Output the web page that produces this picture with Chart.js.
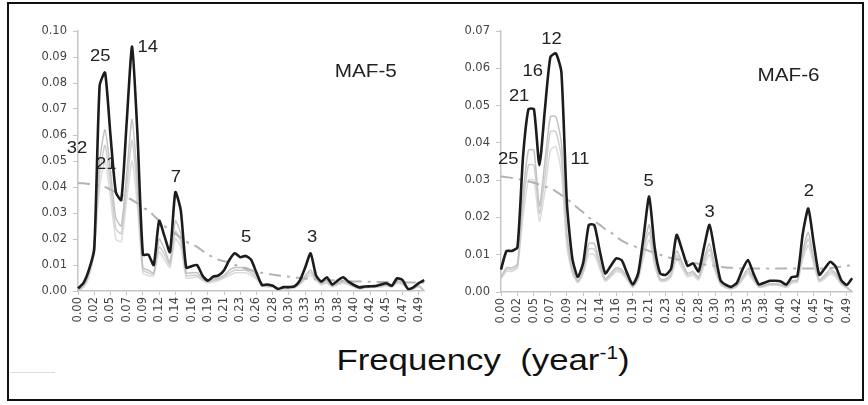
<!DOCTYPE html>
<html>
<head>
<meta charset="utf-8">
<script src="https://cdn.jsdelivr.net/npm/chart.js@4.4.0/dist/chart.umd.min.js"></script>
<style>
  html, body { margin: 0; padding: 0; background: #fff; }
  #wrap { position: relative; width: 868px; height: 405px; overflow: hidden; }
  #frame { position: absolute; left: 7px; top: 2px; width: 853px; height: 395px; border: 2px solid #111; }
  #leftChart { position: absolute; left: 0; top: 0; }
  #rightChart { position: absolute; left: 440px; top: 0; }
  #xTitle {
    position: absolute; left: 283px; top: 345px; width: 400px; text-align: center;
    font: 30px/30px "Liberation Sans", Arial, sans-serif; color: #111;
    transform: scaleX(1.16); white-space: pre;
  }
  #xTitle sup { font-size: 18px; vertical-align: 11px; line-height: 0; }
  #smudge { position: absolute; left: 10px; top: 372px; width: 45px; height: 1px; background: #ddd; }
</style>
</head>
<body>
<div id="wrap">
  <canvas id="leftChart" width="440" height="335"></canvas>
  <canvas id="rightChart" width="428" height="335"></canvas>
  <div id="xTitle">Frequency  (year<sup>-1</sup>)</div>
  <div id="smudge"></div>
  <div id="frame"></div>
</div>
<script>
// frequency tick labels (every third category, k/128)
const freqTicks = ["0.00","0.02","0.05","0.07","0.09","0.12","0.14","0.16","0.19","0.21","0.23",
  "0.26","0.28","0.30","0.33","0.35","0.38","0.40","0.42","0.45","0.47","0.49"];

// MAF-5 spectrum
const maf5Main = [.001,.003,.008,.016,.079,.084,.060,.038,.035,.065,
  .094,.060,.014,.014,.010,.027,.021,.015,.038,.031,
  .009,.0095,.010,.006,.004,.0055,.006,.008,.012,.0145,
  .013,.0135,.012,.007,.0023,.0025,.002,.0008,.0015,.0015,
  .0018,.004,.009,.0145,.006,.0036,.0053,.0025,.004,.0053,
  .0036,.0023,.0014,.0017,.0018,.0019,.0025,.003,.002,.0049,
  .0042,.0008,.0014,.003,.0042];
const maf5Grey1 = [0,.002,.007,.019,.050,.062,.046,.028,.025,.045,
  .066,.042,.009,.008,.007,.020,.016,.011,.027,.022,
  .007,.007,.007,.005,.004,.0045,.005,.006,.008,.009,
  .009,.009,.008,.006,.003,.002,.002,.001,.0012,.0012,
  .0015,.003,.006,.008,.005,.003,.004,.002,.003,.004,
  .003,.002,.0012,.0015,.0017,.0018,.002,.0025,.0018,.004,
  .003,.001,.0012,.002,0];
const maf5Grey2 = [0,.0018,.006,.017,.045,.056,.041,.024,.022,.040,
  .058,.037,.008,.007,.0065,.017,.014,.010,.023,.019,
  .006,.006,.006,.0045,.0035,.004,.0045,.0055,.007,.008,
  .008,.008,.007,.005,.0025,.0018,.0017,.001,.001,.001,
  .0013,.0027,.005,.007,.0045,.0027,.0035,.0018,.0027,.0035,
  .0027,.0018,.001,.0013,.0015,.0016,.0018,.0022,.0016,.0035,
  .0027,.0009,.001,.0018,0];
const maf5Grey3 = [0,.0015,.005,.015,.040,.050,.036,.020,.019,.035,
  .050,.032,.007,.006,.006,.015,.012,.009,.020,.017,
  .005,.005,.0055,.004,.003,.0035,.004,.005,.006,.007,
  .007,.007,.006,.0045,.002,.0015,.0015,.0008,.0008,.0008,
  .0011,.0024,.0045,.006,.004,.0024,.003,.0015,.0024,.003,
  .0024,.0015,.0008,.0011,.0013,.0014,.0015,.002,.0014,.003,
  .0024,.0008,.0008,.0015,0];
const maf5Noise = [.0415,.0414,.0412,.041,.0405,.040,.039,.038,.037,.036,
  .035,.0337,.032,.031,.029,.027,.025,.0235,.022,.0205,
  .019,.018,.017,.0155,.014,.013,.012,.0115,.011,.010,
  .0095,.0085,.008,.0075,.007,.0066,.0063,.006,.0057,.0055,
  .0052,.005,.0048,.0046,.0045,.0043,.0042,.0041,.004,.0039,
  .0038,.0037,.0037,.0036,.0036,.0035,.0035,.0035,.0034,.0034,
  .0034,.0033,.0033,.0033,.0033];

// MAF-6 spectrum
const maf6Main = [.006,.011,.011,.012,.036,.049,.049,.034,.049,.063,
  .064,.059,.024,.009,.004,.008,.018,.018,.011,.005,
  .007,.009,.0085,.005,.002,.005,.015,.0256,.012,.005,
  .0046,.0063,.0153,.0113,.007,.0077,.0055,.012,.018,.0104,
  .0032,.0019,.0014,.0025,.006,.0086,.005,.002,.0025,.003,
  .003,.0028,.002,.004,.0043,.0157,.0224,.013,.0046,.0063,
  .0081,.0068,.0032,.0019,.0037];
const maf6Grey1 = [.004,.0065,.0065,.0075,.026,.038,.038,.023,.035,.047,
  .047,.040,.016,.006,.003,.006,.013,.013,.008,.0035,
  .005,.0065,.006,.004,.0015,.004,.012,.018,.009,.0035,
  .0035,.005,.011,.008,.005,.0055,.004,.009,.013,.007,
  .0025,.0014,.001,.0018,.004,.0062,.0038,.0015,.0018,.0022,
  .0022,.002,.0015,.003,.0032,.011,.016,.009,.0033,.0045,
  .006,.005,.0024,.0013,0];
const maf6Grey2 = [.0038,.006,.006,.007,.023,.034,.034,.021,.031,.043,
  .043,.036,.014,.0055,.0028,.0055,.0115,.0115,.007,.0032,
  .0045,.006,.0055,.0036,.0014,.0036,.011,.016,.008,.0032,
  .0032,.0045,.0098,.0072,.0045,.005,.0036,.008,.0115,.0063,
  .0022,.0012,.0009,.0016,.0036,.0055,.0034,.0014,.0016,.002,
  .002,.0018,.0014,.0027,.0029,.0098,.0142,.008,.003,.004,
  .0054,.0045,.0022,.0012,0];
const maf6Grey3 = [.0035,.0055,.0055,.0065,.020,.030,.030,.019,.027,.038,
  .039,.032,.012,.005,.0025,.005,.010,.010,.0062,.0029,
  .004,.0055,.005,.0032,.0012,.0032,.0095,.014,.007,.0029,
  .0029,.004,.0087,.0064,.004,.0045,.0032,.007,.010,.0056,
  .002,.0011,.0008,.0014,.0032,.0049,.003,.0012,.0014,.0018,
  .0018,.0016,.0012,.0024,.0026,.0087,.0126,.0072,.0027,.0036,
  .0048,.004,.002,.0011,0];
const maf6Noise = [.031,.0308,.0306,.0303,.030,.0297,.0293,.0288,.0283,.0278,
  .027,.026,.025,.0238,.0225,.0213,.020,.019,.018,.0168,
  .016,.0148,.0138,.013,.0124,.0119,.0115,.011,.0105,.010,
  .0095,.0091,.0088,.0085,.0082,.0079,.0076,.0074,.0072,.007,
  .0068,.0066,.0065,.0064,.0063,.0063,.0063,.0063,.0063,.0063,
  .0063,.0063,.0063,.0063,.0063,.0063,.0063,.0063,.0063,.0063,
  .0064,.0066,.0068,.007,.0072];

// period annotations: [text, category index, value]
const maf5Notes = [["25",4.1,.090],["14",12.9,.0938],["32",-0.2,.0546],["21",5.2,.0485],
  ["7",18.1,.0435],["5",31.1,.0204],["3",43.3,.0204]];
const maf6Notes = [["12",9.2,.0676],["16",5.8,.059],["21",3.3,.0523],["25",1.3,.0354],
  ["11",14.4,.0354],["5",26.9,.0295],["3",38.0,.0214],["2",56.1,.0268]];

// one category per k/128, label shown on every third
const categories = maf5Main.map((_, i) => (i % 3 === 0 ? freqTicks[i / 3] : ""));

const annotPlugin = {
  id: "annot",
  afterDatasetsDraw(chart, args, opts) {
    const { ctx, scales: { x, y } } = chart;
    ctx.save();
    ctx.fillStyle = "#222";
    ctx.textAlign = "center";
    ctx.textBaseline = "middle";
    const draw = (t, px, py, size) => {
      ctx.save();
      ctx.translate(px, py);
      ctx.scale(1.15, 1);
      ctx.font = size + 'px "Liberation Sans", Arial, sans-serif';
      ctx.fillText(t, 0, 0);
      ctx.restore();
    };
    opts.notes.forEach(([t, k, v]) => draw(t, x.getPixelForValue(k), y.getPixelForValue(v), 16));
    draw(opts.title[0], x.getPixelForValue(opts.title[1]), y.getPixelForValue(opts.title[2]), 18);
    ctx.restore();
  },
};

const tickFont = { family: '"DejaVu Sans", sans-serif', size: 11.5 };
const axisGrey = "#c6c6c6";

function makeChart(id, main, g1, g2, g3, noise, yMax, yWidth, xHeight, padRight, notes, title) {
  return new Chart(document.getElementById(id), {
    type: "line",
    data: {
      labels: categories,
      datasets: [
        { data: main, borderColor: "#1c1c1c", borderWidth: 2.6, tension: 0.2 },
        { data: noise, borderColor: "#b3b3b3", borderWidth: 2, borderDash: [12, 6, 3, 6], tension: 0.3 },
        { data: g1, borderColor: "#c2c2c2", borderWidth: 1.5, tension: 0.2 },
        { data: g2, borderColor: "#cfcfcf", borderWidth: 1.5, tension: 0.2 },
        { data: g3, borderColor: "#dcdcdc", borderWidth: 1.5, tension: 0.2 },
      ],
    },
    options: {
      responsive: false,
      animation: false,
      events: [],
      elements: { point: { radius: 0 } },
      layout: { padding: { top: 31, left: 0, right: padRight, bottom: 0 } },
      plugins: {
        legend: { display: false },
        tooltip: { enabled: false },
        annot: { notes: notes, title: title },
      },
      scales: {
        x: {
          afterFit: (s) => { s.height = xHeight; },
          border: { color: axisGrey, width: 1.5 },
          grid: {
            drawOnChartArea: false,
            tickLength: 4,
            color: (c) => (c.index % 3 === 0 ? axisGrey : "rgba(0,0,0,0)"),
          },
          ticks: {
            autoSkip: false,
            maxRotation: 90,
            minRotation: 90,
            padding: 2,
            color: "#444",
            font: tickFont,
            callback: (v, i) => categories[i],
          },
        },
        y: {
          min: 0,
          max: yMax,
          afterFit: (s) => { s.width = yWidth; },
          border: { color: axisGrey, width: 1.5 },
          grid: { drawOnChartArea: false, tickLength: 5, color: axisGrey },
          ticks: {
            stepSize: 0.01,
            padding: 6,
            color: "#444",
            font: tickFont,
            callback: (v) => v.toFixed(2),
          },
        },
      },
    },
    plugins: [annotPlugin],
  });
}

makeChart("leftChart", maf5Main, maf5Grey1, maf5Grey2, maf5Grey3, maf5Noise,
  0.1, 78, 44, 6, maf5Notes, ["MAF-5", 53.2, .0842]);
makeChart("rightChart", maf6Main, maf6Grey1, maf6Grey2, maf6Grey3, maf6Noise,
  0.07, 61, 43, 9, maf6Notes, ["MAF-6", 52.4, .0579]);
</script>
</body>
</html>
